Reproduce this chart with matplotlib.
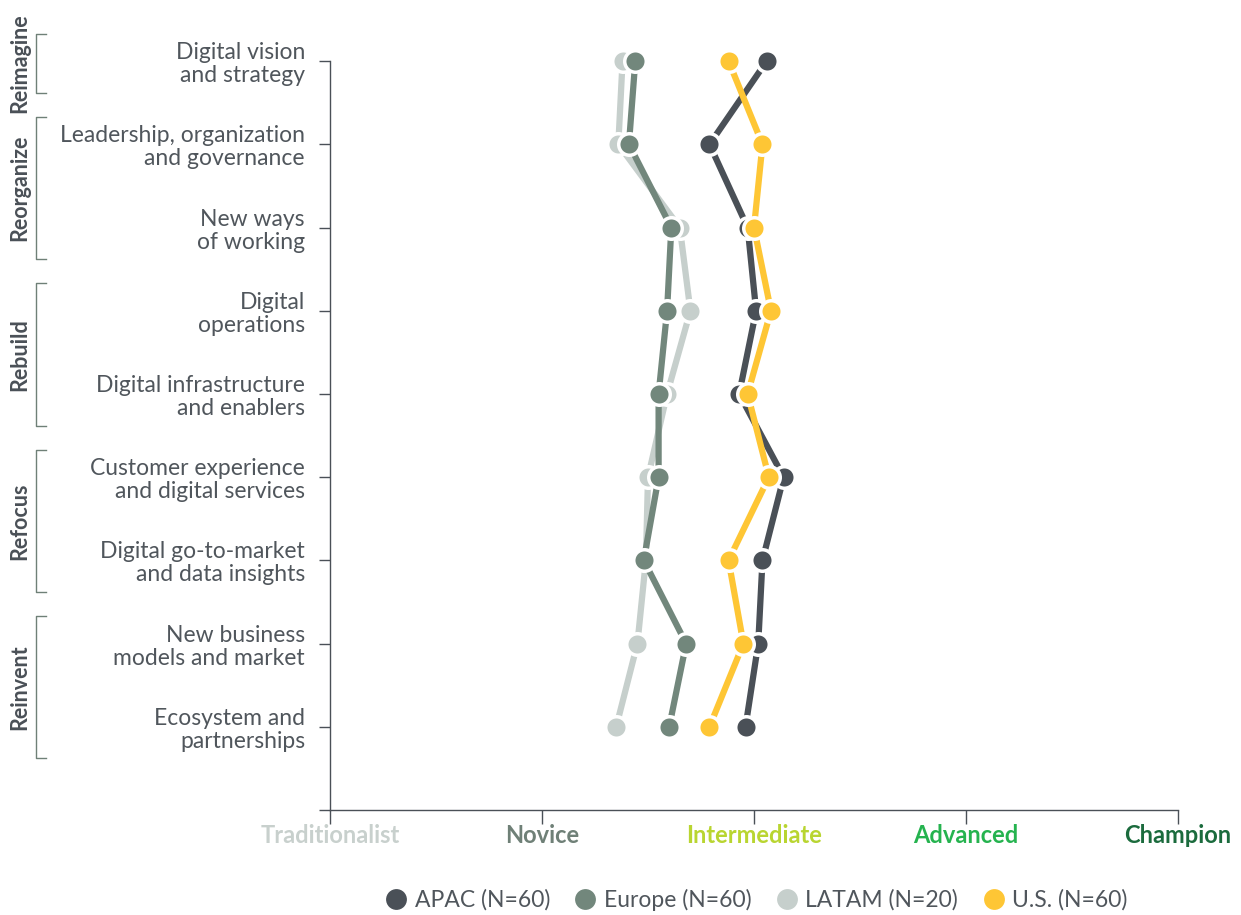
import matplotlib
matplotlib.use('Agg')
import matplotlib.pyplot as plt
import matplotlib.transforms as mtransforms
from matplotlib.lines import Line2D

plt.rcParams['font.family'] = ['Lato', 'DejaVu Sans']

# capabilities (top to bottom)
capabilities = ['Digital vision\nand strategy',
                'Leadership, organization\nand governance',
                'New ways\nof working',
                'Digital\noperations',
                'Digital infrastructure\nand enablers',
                'Customer experience\nand digital services',
                'Digital go-to-market\nand data insights',
                'New business\nmodels and market',
                'Ecosystem and\npartnerships']

# groups: name, first row, last row
groups = [('Reimagine', 0, 0), ('Reorganize', 1, 2), ('Rebuild', 3, 4),
          ('Refocus', 5, 6), ('Reinvent', 7, 8)]

levels = ['Traditionalist', 'Novice', 'Intermediate', 'Advanced', 'Champion']
level_colors = ['#c8d0cd', '#6f8077', '#b9d531', '#25b34f', '#1b6b3d']

# maturity scores (0 = Traditionalist ... 4 = Champion)
latam = [1.38, 1.36, 1.65, 1.70, 1.59, 1.50, 1.49, 1.45, 1.35]
europe = [1.44, 1.41, 1.61, 1.59, 1.55, 1.55, 1.48, 1.68, 1.60]
apac = [2.06, 1.79, 1.97, 2.01, 1.93, 2.14, 2.04, 2.02, 1.96]
us = [1.88, 2.04, 2.00, 2.08, 1.97, 2.07, 1.88, 1.95, 1.79]

series = [('LATAM (N=20)', latam, '#c6cfcc'),
          ('Europe (N=60)', europe, '#72877c'),
          ('APAC (N=60)', apac, '#4a5057'),
          ('U.S. (N=60)', us, '#fec635')]
legend_order = ['APAC (N=60)', 'Europe (N=60)', 'LATAM (N=20)', 'U.S. (N=60)']

W, H = 1241, 915
fig = plt.figure(figsize=(W / 100, H / 100), dpi=100)
ax = fig.add_axes([330 / W, 105 / H, 848 / W, 0.8639])

rows = list(range(len(capabilities)))
for name, vals, col in series:
    ax.plot(vals, rows, '-o', color=col, lw=4.5, ms=15.5, mfc=col,
            mec='white', mew=2.5, clip_on=False, zorder=3, solid_capstyle='butt')

ax.set_xlim(0, 4)
ax.set_ylim(9, -0.5)
ax.set_xticks(range(5))
ax.set_xticklabels(levels, fontweight='bold', fontsize=17)
for lab, c in zip(ax.get_xticklabels(), level_colors):
    lab.set_color(c)
ax.set_yticks(list(rows) + [9])
ax.set_yticklabels(capabilities + [''], fontsize=16.5, color='#50565c',
                   linespacing=1.12)
ax.tick_params(axis='y', length=8, width=1, color='#4a5057', pad=10)
ax.tick_params(axis='x', length=10, width=1, color='#4a5057', pad=0)

for s in ['top', 'right']:
    ax.spines[s].set_visible(False)
for s in ['left', 'bottom']:
    ax.spines[s].set_color('#4a5057')
    ax.spines[s].set_linewidth(1)
ax.spines['left'].set_bounds(0, 9)

# group brackets on the far left
tr = mtransforms.blended_transform_factory(fig.transFigure, ax.transData)
bx0, bx1 = 36 / W, 46 / W
for name, r0, r1 in groups:
    y0, y1 = r0 - 0.33, r1 + 0.38
    ax.add_line(Line2D([bx1, bx0, bx0, bx1], [y0, y0, y1, y1], transform=tr,
                       color='#6f8077', lw=1, clip_on=False))
    ax.text(20 / W, (y0 + y1) / 2, name, transform=tr, rotation=90,
            ha='center', va='center', fontsize=15.5, fontweight='bold',
            color='#4a5057')

handles = {}
for name, vals, col in series:
    handles[name] = Line2D([], [], ls='none', marker='o', ms=15, color=col,
                           mec='none')
fig.legend([handles[n] for n in legend_order], legend_order, loc='center',
           bbox_to_anchor=(756 / W, 1 - 900 / H), ncol=4, frameon=False,
           fontsize=16.5, handletextpad=0.3, columnspacing=1.05,
           labelcolor='#50565c', handlelength=1.0)

plt.savefig('out.png', dpi=100)
